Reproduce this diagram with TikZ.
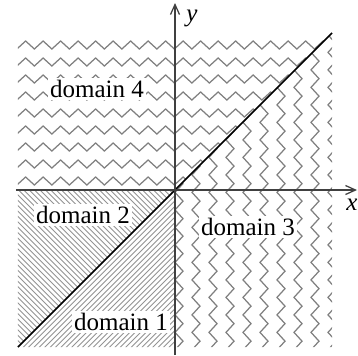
\documentclass[tikz,border=0pt]{standalone}
\usepackage{fontspec}
\setmainfont{Liberation Serif}
\usetikzlibrary{arrows.meta, decorations.pathmorphing}

\begin{document}
\begin{tikzpicture}[
  x=0.4pt, y=0.4pt,
  >={Straight Barb[length=4pt, width=3.6pt]},
  zig/.style={draw=gray, line width=0.5pt, decorate,
              decoration={zigzag, segment length=7pt, amplitude=1.6pt}},
  hatch/.style={draw=gray!85, line width=0.35pt},
  axis/.style={->, draw=black!75, line width=0.5pt},
  lbl/.style={fill=white, inner sep=1pt, font=\normalsize},
]
\useasboundingbox (-175,-165) rectangle (183,190);

\coordinate (o)  at (0,0);
\coordinate (ll) at (-157,-157);
\coordinate (ur) at (157,157);
\coordinate (xs) at (-159,0);
\coordinate (xe) at (182,0);
\coordinate (ys) at (0,-165);
\coordinate (ye) at (0,187);

% domain 4: horizontal zigzags
\begin{scope}
  \clip (-157,0) -- (o) -- (ur) -- (-157,157) -- cycle;
  \foreach \k in {0,...,8}
    \draw[zig] (-171.25, 9+17*\k) -- (175, 9+17*\k);
\end{scope}

% domain 3: vertical zigzags
\begin{scope}
  \clip (0,-157) -- (157,-157) -- (ur) -- (o) -- cycle;
  \foreach \k in {0,...,9}
    \draw[zig] (4+17*\k, -181.75) -- (4+17*\k, 175);
\end{scope}

% domain 2
\begin{scope}
  \clip (-157,0) -- (o) -- (ll) -- cycle;
  \foreach \c in {0,5.4,...,320}
    \draw[hatch] (-170, 170-\c) -- (10, -10-\c);
\end{scope}

% domain 1
\begin{scope}
  \clip (ll) -- (o) -- (0,-157) -- cycle;
  \foreach \c in {0,5.4,...,165}
    \draw[hatch] (-170, -170-\c) -- (10, 10-\c);
\end{scope}

\draw[line width=0.6pt] (ll) -- (ur);
\draw[axis] (xs) -- (xe);
\draw[axis] (ys) -- (ye);

\node[lbl] (d4) at (-78,101)  {domain 4};
\node[lbl] (d2) at (-92,-25)  {domain 2};
\node[lbl] (d1) at (-54,-132) {domain 1};
\node[lbl] (d3) at (73,-37)   {domain 3};
\node (xl) at (177,-15) {\itshape x};
\node (yl) at (17,172)  {\itshape y};
\end{tikzpicture}
\end{document}
